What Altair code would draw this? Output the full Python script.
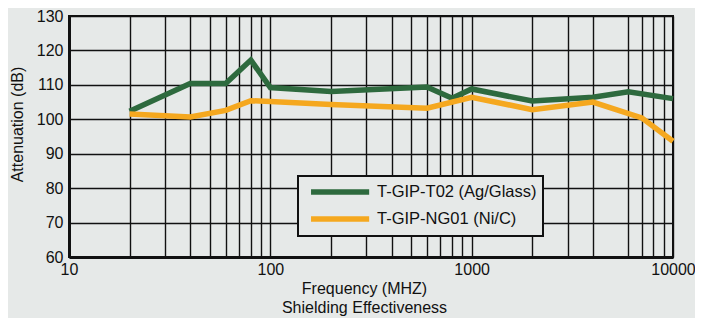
import altair as alt
import pandas as pd

# Data
freq_t02 = [20, 40, 60, 80, 100, 200, 600, 800, 1000, 2000, 4000, 6000, 10000]
att_t02 = [102.3, 110.4, 110.4, 117.2, 109.2, 108.1, 109.4, 106.1, 108.8, 105.3, 106.4, 108.0, 106.0]
freq_ng01 = [20, 40, 60, 80, 100, 200, 600, 1000, 2000, 4000, 7000, 10000]
att_ng01 = [101.5, 100.7, 102.6, 105.4, 105.2, 104.3, 103.2, 106.4, 102.8, 105.0, 100.4, 93.6]
series_names = ["T-GIP-T02 (Ag/Glass)", "T-GIP-NG01 (Ni/C)"]
series_colors = ["#2e6a3e", "#f5a81f"]
x_grid = [10, 20, 30, 40, 50, 60, 70, 80, 90, 100, 200, 300, 400, 500, 600, 700, 800, 900,
          1000, 2000, 3000, 4000, 6000, 7000, 8000, 9000, 10000]
x_labels = [10, 100, 1000, 10000]
y_ticks = [60, 70, 80, 90, 100, 110, 120, 130]

df = pd.concat([
    pd.DataFrame({"freq": freq_t02, "att": att_t02, "series": series_names[0], "o": range(len(freq_t02))}),
    pd.DataFrame({"freq": freq_ng01, "att": att_ng01, "series": series_names[1], "o": range(len(freq_ng01))}),
])

bg = "#e6e9e8"
label_test = "indexof([" + ",".join(str(v) for v in x_labels) + "], datum.value) >= 0 ? '' + datum.value : ''"

chart = alt.Chart(df).mark_line(strokeWidth=5.5, strokeJoin="miter").encode(
    x=alt.X("freq:Q",
            scale=alt.Scale(type="log", domain=[10, 10000], nice=False),
            axis=alt.Axis(values=x_grid, ticks=False, grid=True,
                          labelExpr=label_test, labelFlush=False,
                          title=["Frequency (MHZ)", "Shielding Effectiveness"],
                          titleX=295, titleY=23, titleBaseline="top", titleLineHeight=19,
                          titleFontSize=16, titleFontWeight="normal",
                          labelPadding=4, labelOverlap=False)),
    y=alt.Y("att:Q",
            scale=alt.Scale(domain=[60, 130], nice=False, zero=False),
            axis=alt.Axis(values=y_ticks, ticks=False, grid=True,
                          title="Attenuation (dB)", titleX=-52, titleY=108,
                          titleBaseline="middle", titleAngle=270,
                          titleFontSize=16, titleFontWeight="normal",
                          labelPadding=6)),
    color=alt.Color("series:N",
                    scale=alt.Scale(domain=series_names, range=series_colors),
                    legend=alt.Legend(title=None, orient="none", legendX=229, legendY=160,
                                      symbolType="M-0.42,0H7.8", symbolSize=200, symbolStrokeWidth=5.5,
                                      labelFontSize=16.5, labelColor="#111111", labelFont="Liberation Sans",
                                      labelLimit=400,
                                      fillColor=bg, strokeColor="#111111", padding=6,
                                      rowPadding=5, labelOffset=53)),
    order="o:Q",
).properties(
    width=604, height=241,
    background=bg,
    padding={"left": 61, "top": 8, "right": 22, "bottom": 61},
    autosize=alt.AutoSizeParams(type="none"),
).configure_view(
    stroke="#111111", strokeWidth=2, fill=bg,
).configure_axis(
    gridColor="#111111", gridOpacity=1, gridWidth=1.4,
    domainColor="#111111", domainWidth=3,
    labelFont="Liberation Sans", titleFont="Liberation Sans",
    labelFontSize=16, labelColor="#111111", titleColor="#111111",
).configure_legend(
    strokeWidth=2,
)

chart.save("out.html", embed_options={"renderer": "svg", "actions": False})
